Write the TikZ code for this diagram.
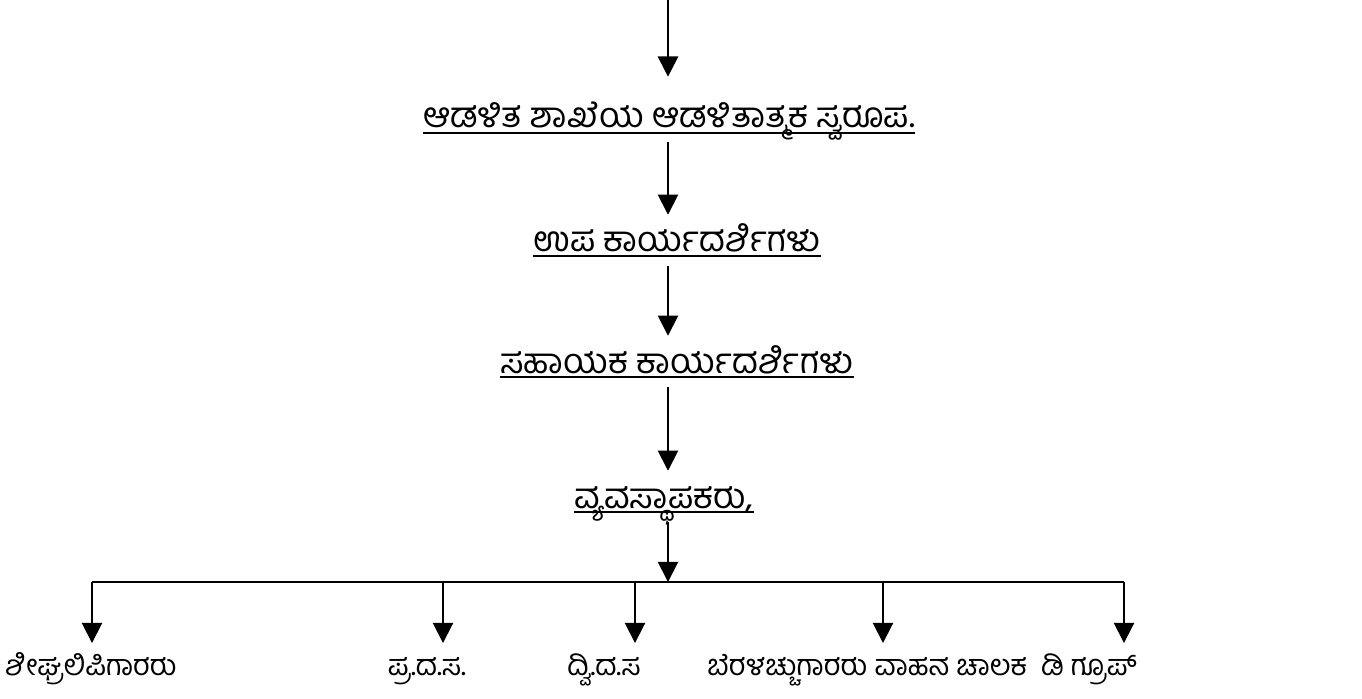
\documentclass[tikz,border=0pt]{standalone}
\usepackage{fontspec}
\newfontfamily\kn[Script=Kannada]{Hind Mysuru}
\usetikzlibrary{arrows.meta}
\begin{document}
\begin{tikzpicture}[x=0.02cm,y=-0.02cm,
  line/.style={line width=1.1pt},
  conn/.style={line, -{Triangle[width=11.5pt,length=11.5pt]}},
  lbl/.style={font=\kn\fontsize{20}{24}\selectfont, inner sep=0pt, anchor=base,
    text height=21pt, text depth=8pt},
  blbl/.style={font=\kn\fontsize{16.5}{20}\selectfont, inner sep=0pt, anchor=base,
    text height=18pt, text depth=6pt}]
\useasboundingbox (0,0) rectangle (1362,699);
% axis / helper coordinates
\coordinate (top) at (668,0);
\coordinate (ax) at (668,0);
\coordinate (u1) at (0,133);
\coordinate (u2) at (0,256);
\coordinate (u3) at (0,377);
\coordinate (u4) at (0,512);
\coordinate (bar) at (668,582);
\coordinate (b1) at (92,582);
\coordinate (b2) at (443,582);
\coordinate (b3) at (635,582);
\coordinate (b4) at (883,582);
\coordinate (b5) at (1124,582);
% labels
\node[lbl] (t1) at (669,128) {ಆಡಳಿತ ಶಾಖೆಯ ಆಡಳಿತಾತ್ಮಕ ಸ್ವರೂಪ.};
\node[lbl] (t2) at (677,252) {ಉಪ ಕಾರ್ಯದರ್ಶಿಗಳು};
\node[lbl] (t3) at (677,373) {ಸಹಾಯಕ ಕಾರ್ಯದರ್ಶಿಗಳು};
\node[lbl] (t4) at (664,508) {ವ್ಯವಸ್ಥಾಪಕರು,};
\node[blbl] (l1) at (91,675) {ಶೀಘ್ರಲಿಪಿಗಾರರು};
\node[blbl] (l2) at (427,675) {ಪ್ರ.ದ.ಸ.};
\node[blbl] (l3) at (604,675) {ದ್ವಿ.ದ.ಸ};
\node[blbl] (l4) at (922,675) {ಬೆರಳಚ್ಚುಗಾರರು ವಾಹನ ಚಾಲಕ\ \ ಡಿ ಗ್ರೂಪ್};
% underlines
\draw[line] (t1.west |- u1) -- (t1.east |- u1);
\draw[line] (t2.west |- u2) -- (t2.east |- u2);
\draw[line] (t3.west |- u3) -- (t3.east |- u3);
\draw[line] (t4.west |- u4) -- (t4.east |- u4);
% vertical chain
\draw[conn, shorten >=8pt] (top) -- (t1.north -| ax);
\draw[conn] (t1.south -| ax) -- (t2.north -| ax);
\draw[conn] (t2.south -| ax) -- (t3.north -| ax);
\draw[conn] (t3.south -| ax) -- (t4.north -| ax);
\draw[conn] (t4.south -| ax) -- (bar);
% branch bar
\draw[line] (b1) -- (b5);
\draw[conn] (b1) -- (l1.north -| b1);
\draw[conn] (b2) -- (l2.north -| b2);
\draw[conn] (b3) -- (l3.north -| b3);
\draw[conn] (b4) -- (l4.north -| b4);
\draw[conn] (b5) -- (l4.north -| b5);
\end{tikzpicture}
\end{document}
